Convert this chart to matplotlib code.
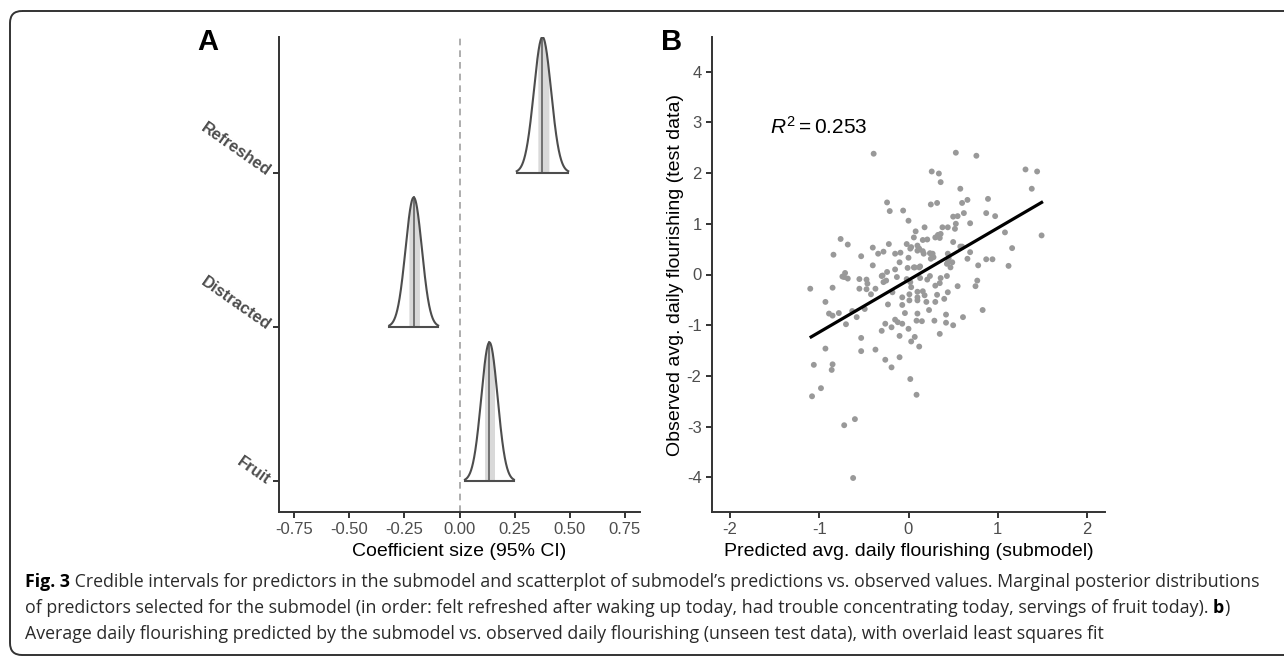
import numpy as np
import matplotlib
matplotlib.use('Agg')
import matplotlib.pyplot as plt
from matplotlib.patches import FancyBboxPatch

plt.rcParams['font.family'] = 'Liberation Sans'
plt.rcParams['mathtext.fontset'] = 'custom'
plt.rcParams['mathtext.rm'] = 'Liberation Sans'
plt.rcParams['mathtext.it'] = 'Liberation Sans:italic'

# panel A: marginal posteriors of the submodel predictors
predictors = ['Fruit', 'Distracted', 'Refreshed']
post_median = [0.136, -0.208, 0.377]
post_sd = [0.037, 0.037, 0.039]
ci50_lo = [0.114, -0.230, 0.356]
ci50_hi = [0.159, -0.182, 0.406]
ridge_height = [0.90, 0.84, 0.88]
coef_ticks = [-0.75, -0.50, -0.25, 0.00, 0.25, 0.50, 0.75]
coef_labels = ['-0.75', '-0.50', '-0.25', '0.00', '0.25', '0.50', '0.75']

# panel B: predicted vs observed flourishing (test data)
pred_x = [-0.39, 0.53, 0.76, 1.31, 1.44, 0.26, 0.34, 0.36, 1.38, 0.58,
          0.89, 0.66, 0.60, -0.24, 0.25, 0.32, -0.21, -0.06, 0.00, 0.62,
          0.87, 0.97, 0.50, 0.55, 0.44, 0.52, 0.38, 0.69, 0.18, 0.08,
          0.33, 0.35, 0.30, 0.36, 0.50, 1.08, 1.49, 0.06, -0.76, -0.68,
          -0.22, -0.40, -0.02, 0.03, 0.10, 0.12, 0.16, 0.21, 0.60, 1.16,
          -0.84, -0.53, -0.34, -0.28, -0.15, -0.09, 0.00, 0.16, 0.24, 0.28,
          0.25, 0.44, 0.45, 0.66, 0.69, 0.87, 0.94, -0.40, -0.10, -0.15,
          -0.01, 0.07, 0.13, 0.44, 0.47, 0.78, 1.12, -0.71, -0.74, -0.68,
          -0.55, -0.47, -0.46, -0.30, -0.28, -0.24, -0.25, -0.13, -0.02, 0.03,
          0.02, 0.13, 0.24, 0.21, 0.36, 0.43, 0.30, 0.35, 0.77, 0.75,
          0.55, -1.10, -0.85, -0.55, -0.47, -0.42, -0.37, -0.18, -0.07, 0.01,
          0.10, 0.16, 0.18, 0.10, 0.01, 0.10, 0.20, 0.32, 0.44, 0.40,
          0.30, -0.93, -0.23, -0.07, 0.23, 0.83, -0.89, -0.85, -0.78, -0.63,
          -0.58, -0.70, -0.49, -0.26, -0.19, -0.15, -0.12, -0.07, -0.10, 0.00,
          -0.30, 0.09, 0.15, 0.29, 0.42, 0.42, 0.50, 0.61, 0.35, 0.07,
          0.03, 0.12, -0.53, -0.93, -0.53, -0.37, -0.26, -0.19, -0.10, -1.06,
          -0.85, -0.86, 0.02, 0.09, -0.98, -1.08, -0.60, -0.72, -0.62,
          0.02, 0.10, 0.17, 0.27, 0.06, 0.12, 0.43, 0.49, 0.58, 0.53,
          -0.04, 0.10, -0.72, -0.29]
obs_y = [2.38, 2.40, 2.34, 2.07, 2.03, 2.03, 1.99, 1.82, 1.69, 1.69,
         1.49, 1.47, 1.41, 1.42, 1.38, 1.41, 1.25, 1.26, 1.06, 1.21,
         1.21, 1.15, 1.14, 1.15, 0.93, 0.90, 0.93, 1.01, 0.93, 0.85,
         0.78, 0.72, 0.73, 0.80, 0.64, 0.83, 0.77, 0.73, 0.70, 0.59,
         0.60, 0.53, 0.60, 0.54, 0.57, 0.51, 0.68, 0.69, 0.55, 0.52,
         0.39, 0.36, 0.41, 0.45, 0.41, 0.43, 0.33, 0.46, 0.42, 0.34,
         0.31, 0.41, 0.32, 0.31, 0.44, 0.30, 0.30, 0.18, 0.24, 0.10,
         0.13, 0.14, 0.16, 0.24, 0.14, 0.18, 0.17, 0.03, -0.04, -0.08,
         -0.09, -0.10, -0.18, -0.03, -0.15, 0.05, -0.12, -0.05, -0.09, -0.25,
         -0.15, -0.07, -0.03, -0.10, -0.07, -0.03, -0.22, -0.17, -0.12, -0.23,
         -0.23, -0.28, -0.26, -0.28, -0.29, -0.39, -0.28, -0.35, -0.45, -0.39,
         -0.34, -0.33, -0.41, -0.45, -0.51, -0.51, -0.54, -0.40, -0.35, -0.48,
         -0.54, -0.54, -0.59, -0.60, -0.70, -0.70, -0.77, -0.81, -0.76, -0.72,
         -0.84, -0.98, -0.68, -0.97, -1.04, -0.89, -0.94, -0.97, -1.21, -1.07,
         -1.11, -0.91, -0.92, -0.91, -0.79, -0.95, -1.00, -0.84, -1.17, -1.23,
         -1.32, -1.42, -1.25, -1.46, -1.51, -1.48, -1.68, -1.83, -1.63, -1.78,
         -1.77, -1.88, -2.06, -2.37, -2.24, -2.40, -2.85, -2.97, -4.01,
         0.51, 0.47, 0.41, 0.41, 0.14, 0.14, 0.21, 0.24, 0.55, 1.00,
         -0.76, -0.77, -0.05, -0.02]
fit_x = [-1.09, 1.49]
fit_y = [-1.23, 1.42]
r2_label = r'$R^2 = 0.253$'

caption_lines = [
    [('Fig. 3', 'bold'),
     (' Credible intervals for predictors in the submodel and scatterplot of submodel\u2019s '
      'predictions vs. observed values. Marginal posterior distributions', 'normal')],
    [('of predictors selected for the submodel (in order: felt refreshed after waking up today, '
      'had trouble concentrating today, servings of fruit today). ', 'normal'),
     ('b', 'bold'), (')', 'normal')],
    [('Average daily flourishing predicted by the submodel vs. observed daily flourishing '
      '(unseen test data), with overlaid least squares fit', 'normal')],
]

fig = plt.figure(figsize=(12.84, 6.59), dpi=100)

# background layer in pixel units for the frame, panel letters and caption
bg = fig.add_axes([0, 0, 1, 1])
bg.set_xlim(0, 1284)
bg.set_ylim(659, 0)
bg.axis('off')
bg.add_patch(FancyBboxPatch((10, 11), 1320, 644, boxstyle='round,pad=0,rounding_size=12',
                            fill=False, ec='#333333', lw=1.4))

ink = '#333333'
tick_grey = '#4d4d4d'


def style_axes(ax):
    for side in ['top', 'right']:
        ax.spines[side].set_visible(False)
    for side in ['left', 'bottom']:
        ax.spines[side].set_linewidth(1.4)
        ax.spines[side].set_color(ink)
    ax.tick_params(length=4, width=1.4, color=ink, labelsize=12, labelcolor=tick_grey)


# ---- panel A ----
axA = fig.add_axes([279 / 1284, 147 / 659, 361 / 1284, 475 / 659])
axA.axvline(0, color='#a0a0a0', ls=(0, (4, 3)), lw=1.2, zorder=1)
for i, name in enumerate(predictors):
    y0 = i + 1
    m, s, h = post_median[i], post_sd[i], ridge_height[i]
    xs = np.linspace(m - 3 * s, m + 3 * s, 300)
    ys = h * np.exp(-0.5 * ((xs - m) / s) ** 2)
    axA.fill_between(xs, y0, y0 + ys, color='white', zorder=2)
    xb = np.linspace(ci50_lo[i], ci50_hi[i], 60)
    yb = h * np.exp(-0.5 * ((xb - m) / s) ** 2)
    axA.fill_between(xb, y0, y0 + yb, color='#d9d9d9', lw=0, zorder=3)
    axA.plot([m, m], [y0, y0 + h], color='#6a6a6a', lw=1.3, zorder=4)
    axA.plot(xs, y0 + ys, color='#4d4d4d', lw=1.5, zorder=5)
    axA.plot([xs[0], xs[-1]], [y0, y0], color='#4d4d4d', lw=1.5, zorder=5)

axA.set_xlim(-0.82, 0.82)
axA.set_ylim(0.8, 3.88)
axA.set_xticks(coef_ticks)
axA.set_xticklabels(coef_labels)
axA.set_yticks([1, 2, 3])
axA.set_yticklabels(predictors, rotation=-35, ha='right', va='center',
                    rotation_mode='anchor', fontweight='bold')
style_axes(axA)
axA.set_xlabel('Coefficient size (95% CI)', fontsize=14, labelpad=4)

# ---- panel B ----
axB = fig.add_axes([712 / 1284, 147 / 659, 393 / 1284, 475 / 659])
axB.scatter(pred_x, obs_y, s=18, color='#999999', edgecolors='none', zorder=2)
axB.plot(fit_x, fit_y, color='black', lw=2.3, zorder=3)
axB.text(-1.55, 2.9, r2_label, fontsize=15, ha='left', va='center')
axB.set_xlim(-2.2, 2.2)
axB.set_ylim(-4.68, 4.68)
axB.set_xticks([-2, -1, 0, 1, 2])
axB.set_xticklabels(['-2', '-1', '0', '1', '2'])
axB.set_yticks([-4, -3, -2, -1, 0, 1, 2, 3, 4])
axB.set_yticklabels(['-4', '-3', '-2', '-1', '0', '1', '2', '3', '4'])
style_axes(axB)
axB.set_xlabel('Predicted avg. daily flourishing (submodel)', fontsize=14, labelpad=4)
axB.set_ylabel('Observed avg. daily flourishing (test data)', fontsize=14, labelpad=2)

# panel letters
bg.text(208, 42, 'A', fontsize=21, fontweight='bold', ha='center', va='center')
bg.text(672, 42, 'B', fontsize=21, fontweight='bold', ha='center', va='center')

# caption with bold runs
renderer = fig.canvas.get_renderer()
baseline = 587
for line in caption_lines:
    x = 25
    for txt, weight in line:
        t = bg.text(x, baseline, txt, fontsize=12.8, fontweight=weight, family='Open Sans',
                    color='#2a2a2a' if weight == 'normal' else 'black',
                    ha='left', va='baseline')
        x += t.get_window_extent(renderer).width
    baseline += 26

fig.savefig('out.png', dpi=100)
